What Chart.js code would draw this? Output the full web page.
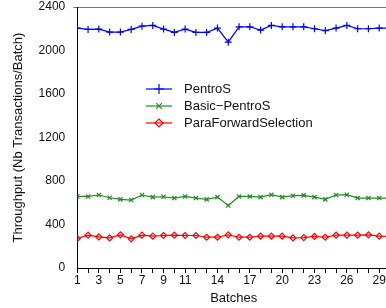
<!DOCTYPE html>
<html lang="en">
<head>
  <meta charset="UTF-8" />
  <title>Throughput per batch</title>
  <script src="https://cdn.jsdelivr.net/npm/chart.js"></script>
  <style>
    html, body { margin: 0; padding: 0; overflow: hidden; background: #fff; }
  </style>
</head>
<body>
  <canvas id="grafica" width="400" height="308"></canvas>

  <script>
    // batches 1..30 (the last one is cut off by the picture's right edge)
    const batches = [1,2,3,4,5,6,7,8,9,10,11,12,13,14,15,16,17,18,19,20,21,22,23,24,25,26,27,28,29,30];
    const pentros = [2206,2194,2197,2169,2169,2194,2224,2231,2197,2166,2197,2166,2166,2206,2077,2218,2218,2188,2231,2218,2218,2218,2200,2182,2206,2231,2200,2200,2206,2206];
    const basicPentros = [658,658,671,646,631,625,671,652,655,643,658,643,631,652,575,658,658,652,674,652,665,668,652,631,671,674,643,643,643,643];
    const paraForward = [271,302,286,277,305,268,302,293,299,302,299,299,283,283,305,283,283,293,293,293,277,280,290,283,302,302,302,305,293,290];
    const xTickLabels = [1,3,5,7,9,11,14,17,20,23,26,29];
    const yTicks = [0,400,800,1200,1600,2000,2400];

    const fuente = 'Liberation Sans, Arial, sans-serif';

    function serie(label, values, color, pointStyle, radius, legendRadius) {
      return {
        label,
        data: batches.map((b, i) => ({ x: b, y: values[i] })),
        borderColor: color,
        backgroundColor: 'transparent',
        borderWidth: 1.2,
        pointStyle,
        pointRadius: radius,
        legendRadius,
        pointBorderWidth: 1.2,
        pointBorderColor: color,
        pointBackgroundColor: 'transparent',
        tension: 0
      };
    }

    // legend drawn inside the plot area
    const leyenda = {
      id: 'leyenda',
      afterDatasetsDraw(chart) {
        const ctx = chart.ctx;
        const x0 = 146, x1 = 172, xt = 184;
        const ys = [89, 106, 123];
        ctx.save();
        chart.data.datasets.forEach((ds, i) => {
          const y = ys[i];
          ctx.strokeStyle = ds.borderColor;
          ctx.lineWidth = 1.2;
          ctx.beginPath();
          ctx.moveTo(x0, y);
          ctx.lineTo(x1, y);
          ctx.stroke();
          ctx.fillStyle = 'transparent';
          Chart.helpers.drawPoint(ctx, {
            pointStyle: ds.pointStyle, radius: ds.legendRadius, borderWidth: 1.2, rotation: 0
          }, (x0 + x1) / 2, y);
          ctx.fillStyle = '#111';
          ctx.font = '13px ' + fuente;
          ctx.textBaseline = 'middle';
          ctx.textAlign = 'left';
          ctx.fillText(ds.label, xt, y);
        });
        ctx.restore();
      }
    };

    new Chart(document.getElementById('grafica'), {
      type: 'line',
      data: {
        datasets: [
          serie('PentroS', pentros, '#0000ff', 'cross', 3.5, 5),
          serie('Basic\u2212PentroS', basicPentros, '#228b22', 'crossRot', 3, 4),
          serie('ParaForwardSelection', paraForward, '#ff0000', 'rectRot', 3, 4)
        ]
      },
      options: {
        responsive: false,
        animation: false,
        devicePixelRatio: 1,
        layout: { padding: { top: 7, right: 10, left: 11, bottom: 2 } },
        plugins: { legend: { display: false }, tooltip: { enabled: false } },
        scales: {
          x: {
            type: 'linear',
            min: 1,
            max: 30,
            offset: false,
            border: { color: '#000', width: 1 },
            grid: { drawOnChartArea: false, drawTicks: true, tickLength: 5, color: '#000' },
            ticks: {
              stepSize: 1,
              autoSkip: false,
              maxRotation: 0,
              color: '#111',
              font: { size: 12, family: fuente },
              padding: 0,
              callback: v => xTickLabels.includes(v) ? String(v) : ''
            },
            title: { display: true, text: 'Batches', color: '#111', font: { size: 13, family: fuente }, padding: { top: 3, bottom: 0 } }
          },
          y: {
            min: 0,
            max: 2400,
            border: { color: '#000', width: 1 },
            grid: {
              drawOnChartArea: true,
              drawTicks: true,
              tickLength: 4,
              color: c => c.tick && c.tick.value === 2400 ? '#777' : 'transparent'
            },
            afterBuildTicks: axis => { axis.ticks = yTicks.map(v => ({ value: v })); },
            afterFit: axis => { axis.paddingTop = 0; },
            ticks: {
              color: '#111',
              font: { size: 12, family: fuente },
              padding: 8,
              callback: v => String(v)
            },
            title: { display: true, text: 'Throughput (Nb Transactions/Batch)', color: '#111', font: { size: 13, family: fuente }, padding: { top: 0, bottom: 4 } }
          }
        }
      },
      plugins: [leyenda]
    });
  </script>
</body>
</html>
